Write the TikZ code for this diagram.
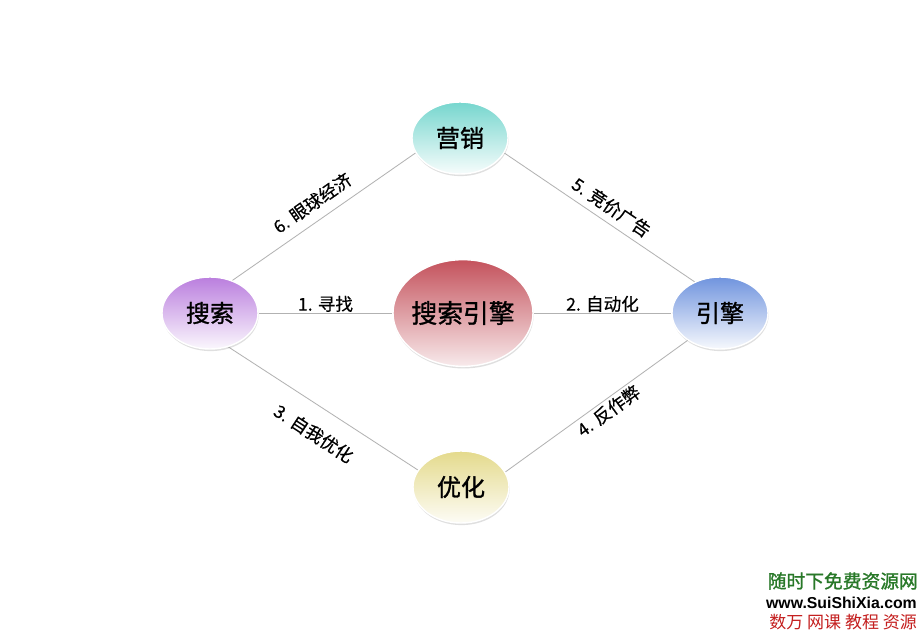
\documentclass[tikz,border=0pt]{standalone}
\usepackage{fontspec}
\newfontfamily\cjk{Noto Sans CJK SC}
\newfontfamily\cjkmid[FakeBold=0.5]{Noto Sans CJK SC}
\newfontfamily\cjkbold[FakeBold=1.2]{Noto Sans CJK SC}
\newfontfamily\wmfont{Liberation Sans}
\usetikzlibrary{shapes.geometric, calc, shadows, backgrounds}

\definecolor{tealtop}{RGB}{118,214,206}
\definecolor{purpletop}{RGB}{186,126,222}
\definecolor{redtop}{RGB}{196,82,92}
\definecolor{bluetop}{RGB}{112,148,222}
\definecolor{yellowtop}{RGB}{228,218,140}
\definecolor{linkgray}{RGB}{178,178,178}
\definecolor{wmgreen}{RGB}{40,120,40}
\definecolor{wmred}{RGB}{196,30,30}

\begin{document}
\begin{tikzpicture}[
    x=0.03cm, y=-0.03cm,
    bubble/.style={ellipse, draw=white, line width=1.2pt, inner sep=0pt,
                   minimum width=2.88cm, minimum height=2.16cm,
                   font=\cjkbold\fontsize{20.5}{24}\selectfont,
                   drop shadow={opacity=0.25, shadow xshift=0.5pt, shadow yshift=-1.8pt}},
    link/.style={draw=linkgray, line width=0.7pt},
    lab/.style={font=\cjkmid\fontsize{15}{18}\selectfont, inner sep=0.5pt},
    diag/.style={lab, sloped, inner ysep=#1}
  ]
  \useasboundingbox (0,0) rectangle (921,634);

  % the five bubbles
  \node[bubble, top color=tealtop, bottom color=tealtop!6] (yingxiao) at (460,138) {营销};
  \node[bubble, top color=purpletop, bottom color=purpletop!6] (sousuo) at (210,313) {搜索};
  \node[bubble, minimum width=4.2cm, minimum height=3.2cm, inner xsep=-6pt,
        top color=redtop, bottom color=redtop!12,
        font=\cjkbold\fontsize{22}{26}\selectfont] (core) at (463,313) {搜索引擎};
  \node[bubble, top color=bluetop, bottom color=bluetop!6] (yinqing) at (720,313) {引擎};
  \node[bubble, top color=yellowtop, bottom color=yellowtop!8] (youhua) at (461,487) {优化};

  \begin{scope}[on background layer]
    \fill[white] (0,0) rectangle (921,634);
    \draw[link] (sousuo) -- (core) node[lab, midway, above] {1. 寻找};
    \draw[link] (core) -- (yinqing) node[lab, midway, above] {2. 自动化};
    \draw[link] ($(sousuo)+(0,-17)$) -- ($(yingxiao)+(0,-16)$)
      node[diag=8pt, pos=0.45, above] {6. 眼球经济};
    \draw[link] ($(yingxiao)+(0,-15)$) -- ($(yinqing)+(0,-14)$)
      node[diag=5.5pt, pos=0.55, above] {5. 竞价广告};
    \draw[link] ($(sousuo)+(0,22)$) -- ($(youhua)+(0,11)$)
      node[diag=15pt, pos=0.47, below] {3. 自我优化};
    \draw[link] ($(youhua)+(0,17)$) -- ($(yinqing)+(0,4)$)
      node[diag=2pt, pos=0.545, below] {4. 反作弊};
  \end{scope}

  % watermark
  \node[anchor=east, inner sep=0pt, text=wmgreen,
        font=\cjkbold\fontsize{16}{18}\selectfont] (wmtitle) at (918,581) {随时下免费资源网};
  \node[anchor=east, inner sep=0pt,
        font=\wmfont\bfseries\fontsize{13.5}{15}\selectfont] (wmurl) at (917,603) {www.SuiShiXia.com};
  \node[anchor=east, inner sep=0pt, text=wmred,
        font=\cjk\fontsize{14.5}{16}\selectfont] (wmsub) at (917,622) {数万 网课 教程 资源};
\end{tikzpicture}
\end{document}
